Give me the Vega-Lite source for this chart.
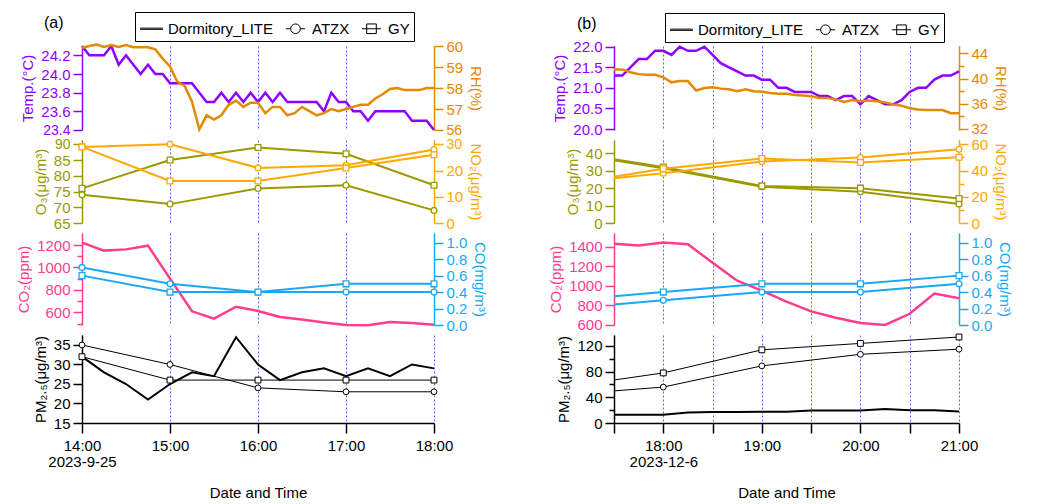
{
"$schema": "https://vega.github.io/schema/vega-lite/v6.json",
"background": "white",
"padding": {"left": 16, "top": 11, "right": 5, "bottom": 3},
"datasets": {
"a_env": [
{"t":"2023-09-25T14:00","temp":24.3,"rh":59.92},{"t":"2023-09-25T14:05","temp":24.2,"rh":60.0},{"t":"2023-09-25T14:10","temp":24.2,"rh":60.07},{"t":"2023-09-25T14:15","temp":24.2,"rh":59.95},{"t":"2023-09-25T14:20","temp":24.3,"rh":60.05},{"t":"2023-09-25T14:25","temp":24.1,"rh":59.95},{"t":"2023-09-25T14:30","temp":24.2,"rh":60.05},{"t":"2023-09-25T14:35","temp":24.1,"rh":59.94},{"t":"2023-09-25T14:40","temp":24.0,"rh":59.94},{"t":"2023-09-25T14:45","temp":24.1,"rh":59.94},{"t":"2023-09-25T14:50","temp":24.0,"rh":59.84},{"t":"2023-09-25T14:55","temp":24.0,"rh":59.4},
{"t":"2023-09-25T15:00","temp":23.9,"rh":59.03},{"t":"2023-09-25T15:05","temp":23.9,"rh":58.3},{"t":"2023-09-25T15:10","temp":23.9,"rh":58.1},{"t":"2023-09-25T15:15","temp":23.9,"rh":57.35},{"t":"2023-09-25T15:20","temp":23.8,"rh":56.03},{"t":"2023-09-25T15:25","temp":23.7,"rh":56.7},{"t":"2023-09-25T15:30","temp":23.7,"rh":56.5},{"t":"2023-09-25T15:35","temp":23.8,"rh":56.7},{"t":"2023-09-25T15:40","temp":23.7,"rh":57.2},{"t":"2023-09-25T15:45","temp":23.8,"rh":57.4},{"t":"2023-09-25T15:50","temp":23.7,"rh":57.1},{"t":"2023-09-25T15:55","temp":23.8,"rh":57.3},
{"t":"2023-09-25T16:00","temp":23.7,"rh":57.3},{"t":"2023-09-25T16:05","temp":23.8,"rh":56.8},{"t":"2023-09-25T16:10","temp":23.7,"rh":57.1},{"t":"2023-09-25T16:15","temp":23.8,"rh":57.1},{"t":"2023-09-25T16:20","temp":23.7,"rh":56.7},{"t":"2023-09-25T16:25","temp":23.7,"rh":56.8},{"t":"2023-09-25T16:30","temp":23.7,"rh":57.1},{"t":"2023-09-25T16:35","temp":23.7,"rh":56.9},{"t":"2023-09-25T16:40","temp":23.7,"rh":56.7},{"t":"2023-09-25T16:45","temp":23.6,"rh":56.8},{"t":"2023-09-25T16:50","temp":23.8,"rh":57.0},{"t":"2023-09-25T16:55","temp":23.7,"rh":56.9},
{"t":"2023-09-25T17:00","temp":23.7,"rh":57.0},{"t":"2023-09-25T17:05","temp":23.6,"rh":57.1},{"t":"2023-09-25T17:10","temp":23.6,"rh":57.2},{"t":"2023-09-25T17:15","temp":23.5,"rh":57.2},{"t":"2023-09-25T17:20","temp":23.6,"rh":57.5},{"t":"2023-09-25T17:25","temp":23.6,"rh":57.7},{"t":"2023-09-25T17:30","temp":23.6,"rh":57.95},{"t":"2023-09-25T17:35","temp":23.6,"rh":58.0},{"t":"2023-09-25T17:40","temp":23.6,"rh":57.9},{"t":"2023-09-25T17:45","temp":23.5,"rh":57.9},{"t":"2023-09-25T17:50","temp":23.5,"rh":57.9},{"t":"2023-09-25T17:55","temp":23.5,"rh":58.0},
{"t":"2023-09-25T18:00","temp":23.4,"rh":58.0}
],
"a_15": [
{"t":"2023-09-25T14:00","co2":1221,"pm":32},{"t":"2023-09-25T14:15","co2":1150,"pm":28},{"t":"2023-09-25T14:30","co2":1161,"pm":25},{"t":"2023-09-25T14:45","co2":1194,"pm":21},
{"t":"2023-09-25T15:00","co2":900,"pm":25},{"t":"2023-09-25T15:15","co2":609,"pm":28},{"t":"2023-09-25T15:30","co2":543,"pm":27},{"t":"2023-09-25T15:45","co2":650,"pm":37},
{"t":"2023-09-25T16:00","co2":612,"pm":30},{"t":"2023-09-25T16:15","co2":558,"pm":26},{"t":"2023-09-25T16:30","co2":535,"pm":28},{"t":"2023-09-25T16:45","co2":510,"pm":29},
{"t":"2023-09-25T17:00","co2":487,"pm":27},{"t":"2023-09-25T17:15","co2":484,"pm":29},{"t":"2023-09-25T17:30","co2":514,"pm":27},{"t":"2023-09-25T17:45","co2":505,"pm":30},
{"t":"2023-09-25T18:00","co2":490,"pm":29}
],
"a_hr": [
{"station":"ATZX","t":"2023-09-25T14:00","o3":74,"no2":29,"co":0.7,"pm":35},
{"station":"ATZX","t":"2023-09-25T15:00","o3":71,"no2":30,"co":0.5,"pm":30},
{"station":"ATZX","t":"2023-09-25T16:00","o3":76,"no2":21,"co":0.4,"pm":24},
{"station":"ATZX","t":"2023-09-25T17:00","o3":77,"no2":22,"co":0.4,"pm":23},
{"station":"ATZX","t":"2023-09-25T18:00","o3":69,"no2":28,"co":0.4,"pm":23},
{"station":"GY","t":"2023-09-25T14:00","o3":76,"no2":29,"co":0.6,"pm":32},
{"station":"GY","t":"2023-09-25T15:00","o3":85,"no2":16,"co":0.4,"pm":26},
{"station":"GY","t":"2023-09-25T16:00","o3":89,"no2":16,"co":0.4,"pm":26},
{"station":"GY","t":"2023-09-25T17:00","o3":87,"no2":21,"co":0.5,"pm":26},
{"station":"GY","t":"2023-09-25T18:00","o3":77,"no2":26,"co":0.5,"pm":26}
],
"b_env": [
{"t":"2023-12-06T17:30","temp":21.3,"rh":41.45},{"t":"2023-12-06T17:35","temp":21.3,"rh":41.45},{"t":"2023-12-06T17:40","temp":21.5,"rh":41.0},{"t":"2023-12-06T17:45","temp":21.7,"rh":40.7},{"t":"2023-12-06T17:50","temp":21.7,"rh":40.6},{"t":"2023-12-06T17:55","temp":21.9,"rh":40.6},
{"t":"2023-12-06T18:00","temp":21.9,"rh":40.2},{"t":"2023-12-06T18:05","temp":21.8,"rh":39.4},{"t":"2023-12-06T18:10","temp":22.0,"rh":39.6},{"t":"2023-12-06T18:15","temp":21.9,"rh":39.6},{"t":"2023-12-06T18:20","temp":21.9,"rh":38.1},{"t":"2023-12-06T18:25","temp":22.0,"rh":38.5},{"t":"2023-12-06T18:30","temp":21.8,"rh":38.6},{"t":"2023-12-06T18:35","temp":21.6,"rh":38.4},{"t":"2023-12-06T18:40","temp":21.5,"rh":38.3},{"t":"2023-12-06T18:45","temp":21.4,"rh":38.0},{"t":"2023-12-06T18:50","temp":21.3,"rh":38.3},{"t":"2023-12-06T18:55","temp":21.3,"rh":38.0},
{"t":"2023-12-06T19:00","temp":21.2,"rh":37.9},{"t":"2023-12-06T19:05","temp":21.2,"rh":37.7},{"t":"2023-12-06T19:10","temp":21.0,"rh":37.6},{"t":"2023-12-06T19:15","temp":21.0,"rh":37.6},{"t":"2023-12-06T19:20","temp":20.9,"rh":37.4},{"t":"2023-12-06T19:25","temp":20.9,"rh":37.3},{"t":"2023-12-06T19:30","temp":20.9,"rh":37.2},{"t":"2023-12-06T19:35","temp":20.8,"rh":36.9},{"t":"2023-12-06T19:40","temp":20.8,"rh":36.9},{"t":"2023-12-06T19:45","temp":20.7,"rh":36.7},{"t":"2023-12-06T19:50","temp":20.8,"rh":36.3},{"t":"2023-12-06T19:55","temp":20.8,"rh":36.6},
{"t":"2023-12-06T20:00","temp":20.6,"rh":36.4},{"t":"2023-12-06T20:05","temp":20.8,"rh":36.5},{"t":"2023-12-06T20:10","temp":20.7,"rh":36.4},{"t":"2023-12-06T20:15","temp":20.6,"rh":36.2},{"t":"2023-12-06T20:20","temp":20.6,"rh":35.9},{"t":"2023-12-06T20:25","temp":20.7,"rh":35.7},{"t":"2023-12-06T20:30","temp":20.9,"rh":35.3},{"t":"2023-12-06T20:35","temp":21.0,"rh":35.1},{"t":"2023-12-06T20:40","temp":21.0,"rh":35.0},{"t":"2023-12-06T20:45","temp":21.2,"rh":35.0},{"t":"2023-12-06T20:50","temp":21.3,"rh":35.0},{"t":"2023-12-06T20:55","temp":21.3,"rh":34.5},
{"t":"2023-12-06T21:00","temp":21.4,"rh":34.5}
],
"b_15": [
{"t":"2023-12-06T17:30","co2":1430,"pm":13},{"t":"2023-12-06T17:45","co2":1410,"pm":13},{"t":"2023-12-06T18:00","co2":1441,"pm":13},{"t":"2023-12-06T18:15","co2":1424,"pm":16.5},
{"t":"2023-12-06T18:30","co2":1234,"pm":17},{"t":"2023-12-06T18:45","co2":1051,"pm":17.3},{"t":"2023-12-06T19:00","co2":949,"pm":17.5},{"t":"2023-12-06T19:15","co2":837,"pm":17.5},
{"t":"2023-12-06T19:30","co2":736,"pm":19.5},{"t":"2023-12-06T19:45","co2":671,"pm":19.6},{"t":"2023-12-06T20:00","co2":617,"pm":19.6},{"t":"2023-12-06T20:15","co2":597,"pm":22},
{"t":"2023-12-06T20:30","co2":712,"pm":20},{"t":"2023-12-06T20:45","co2":919,"pm":20},{"t":"2023-12-06T21:00","co2":871,"pm":18}
],
"b_hr": [
{"station":"ATZX","t":"2023-12-06T17:30","o3":35.8,"no2":34.2,"co":0.25,"pm":50},
{"station":"ATZX","t":"2023-12-06T18:00","o3":31.3,"no2":38,"co":0.3,"pm":56},
{"station":"ATZX","t":"2023-12-06T19:00","o3":20.7,"no2":46.8,"co":0.4,"pm":89},
{"station":"ATZX","t":"2023-12-06T20:00","o3":17.8,"no2":49.9,"co":0.4,"pm":107},
{"station":"ATZX","t":"2023-12-06T21:00","o3":10.8,"no2":56.2,"co":0.5,"pm":115},
{"station":"GY","t":"2023-12-06T17:30","o3":36.4,"no2":35.2,"co":0.35,"pm":67},
{"station":"GY","t":"2023-12-06T18:00","o3":32.0,"no2":41.3,"co":0.4,"pm":78},
{"station":"GY","t":"2023-12-06T19:00","o3":21.2,"no2":49.1,"co":0.5,"pm":114},
{"station":"GY","t":"2023-12-06T20:00","o3":19.9,"no2":46.1,"co":0.5,"pm":124},
{"station":"GY","t":"2023-12-06T21:00","o3":14.0,"no2":50.1,"co":0.6,"pm":134}
],
"legend": [{"station":"Dormitory_LITE"},{"station":"ATZX"},{"station":"GY"}]
},
"hconcat": [
{
"spacing": 10,
"bounds": "flush",
"resolve": {"scale": {"shape": "independent"}, "legend": {"shape": "independent"}},
"vconcat": [
{
"width": 352, "height": 84,
"title": {"text": "(a)", "anchor": "start", "frame": "group", "dx": -38, "offset": -19, "fontSize": 16, "fontWeight": "normal", "color": "black"},
"layer": [
{"data": {"name": "a_env"}, "mark": {"type": "line", "color": "#8F00FF", "strokeWidth": 2.5},
 "encoding": {
  "x": {"field": "t", "type": "temporal", "scale": {"domain": [{"year":2023,"month":9,"date":25,"hours":14},{"year":2023,"month":9,"date":25,"hours":18}]}, "axis": {"values": [{"year":2023,"month":9,"date":25,"hours":14},{"year":2023,"month":9,"date":25,"hours":15},{"year":2023,"month":9,"date":25,"hours":16},{"year":2023,"month":9,"date":25,"hours":17},{"year":2023,"month":9,"date":25,"hours":18}], "labels": false, "ticks": false, "domain": false, "title": null}},
  "y": {"field": "temp", "type": "quantitative", "scale": {"domain": [23.4, 24.3], "nice": false, "zero": false}, "axis": {"orient": "left", "values": [23.4, 23.6, 23.8, 24.0, 24.2], "format": ".1f", "labelFontSize": {"condition": {"test": "datum.value < 23.5", "value": 14}, "value": 15}, "title": "Temp.(°C)", "domainColor": "#8F00FF", "tickColor": "#8F00FF", "labelColor": "#8F00FF", "titleColor": "#8F00FF"}}
 }},
{"data": {"name": "a_env"}, "mark": {"type": "line", "color": "#E38A00", "strokeWidth": 2.5},
 "encoding": {
  "x": {"field": "t", "type": "temporal", "scale": {"domain": [{"year":2023,"month":9,"date":25,"hours":14},{"year":2023,"month":9,"date":25,"hours":18}]}},
  "y": {"field": "rh", "type": "quantitative", "scale": {"domain": [56, 60], "nice": false, "zero": false}, "axis": {"orient": "right", "values": [56, 57, 58, 59, 60], "labelFontSize": {"condition": {"test": "datum.value < 56.5", "value": 14}, "value": 15}, "title": "RH(%)", "domainColor": "#E38A00", "tickColor": "#E38A00", "labelColor": "#E38A00", "titleColor": "#E38A00"}}
 }},
{"data": {"name": "legend"}, "mark": {"type": "point", "opacity": 0, "color": "black", "filled": false},
 "encoding": {
  "shape": {"field": "station", "type": "nominal",
   "scale": {"domain": ["Dormitory_LITE", "ATZX", "GY"], "range": ["M-0.95,-0.05L0.95,-0.05M-0.95,0.05L0.95,0.05", "M-0.8,0L-0.4,0M0.4,0L0.8,0M-0.4,0A0.4,0.4,0,1,1,0.4,0A0.4,0.4,0,1,1,-0.4,0Z", "M-0.8,0L0.8,0M-0.4,-0.4L0.4,-0.4L0.4,0.4L-0.4,0.4Z"]},
   "legend": {"orient": "none", "legendX": 53, "legendY": -34, "direction": "horizontal", "title": null, "strokeColor": "black", "fillColor": "white", "padding": 4, "labelFontSize": 15, "labelColor": "black", "symbolSize": 576, "symbolStrokeWidth": 1, "symbolStrokeColor": "black", "symbolFillColor": "transparent", "symbolOpacity": 1, "columnPadding": 9, "labelOffset": 4}}
 }}
],
"resolve": {"scale": {"y": "independent"}}
},
{
"width": 352, "height": 83,
"layer": [
{"data": {"name": "a_hr"},
 "encoding": {
  "x": {"field": "t", "type": "temporal", "scale": {"domain": [{"year":2023,"month":9,"date":25,"hours":14},{"year":2023,"month":9,"date":25,"hours":18}]}, "axis": {"values": [{"year":2023,"month":9,"date":25,"hours":14},{"year":2023,"month":9,"date":25,"hours":15},{"year":2023,"month":9,"date":25,"hours":16},{"year":2023,"month":9,"date":25,"hours":17},{"year":2023,"month":9,"date":25,"hours":18}], "labels": false, "ticks": false, "domain": false, "title": null}},
  "y": {"field": "o3", "type": "quantitative", "scale": {"domain": [65, 91.37], "nice": false, "zero": false}, "axis": {"orient": "left", "values": [65, 70, 75, 80, 85, 90], "labelFontSize": {"condition": {"test": "datum.value > 89", "value": 14}, "value": 15}, "title": "O₃(μg/m³)", "domainColor": "#9A9A00", "tickColor": "#9A9A00", "labelColor": "#9A9A00", "titleColor": "#9A9A00"}}
 },
 "layer": [
  {"mark": {"type": "line", "color": "#9A9A00", "strokeWidth": 2}, "encoding": {"detail": {"field": "station"}}},
  {"mark": {"type": "point", "filled": true, "fill": "white", "stroke": "#9A9A00", "strokeWidth": 1.3, "size": 34, "opacity": 1}, "encoding": {"shape": {"field": "station", "type": "nominal", "scale": {"domain": ["ATZX", "GY"], "range": ["circle", "square"]}, "legend": null}}}
 ]},
{"data": {"name": "a_hr"},
 "encoding": {
  "x": {"field": "t", "type": "temporal", "scale": {"domain": [{"year":2023,"month":9,"date":25,"hours":14},{"year":2023,"month":9,"date":25,"hours":18}]}},
  "y": {"field": "no2", "type": "quantitative", "scale": {"domain": [0, 31.64], "nice": false, "zero": false}, "axis": {"orient": "right", "values": [0, 10, 20, 30], "labelFontSize": {"condition": {"test": "datum.value > 29", "value": 14}, "value": 15}, "title": "NO₂(μg/m³)", "domainColor": "#FFA800", "tickColor": "#FFA800", "labelColor": "#FFA800", "titleColor": "#FFA800"}}
 },
 "layer": [
  {"mark": {"type": "line", "color": "#FFA800", "strokeWidth": 2}, "encoding": {"detail": {"field": "station"}}},
  {"mark": {"type": "point", "filled": true, "fill": "white", "stroke": "#FFA800", "strokeWidth": 1.3, "size": 34, "opacity": 1}, "encoding": {"shape": {"field": "station", "type": "nominal", "scale": {"domain": ["ATZX", "GY"], "range": ["circle", "square"]}, "legend": null}}}
 ]}
],
"resolve": {"scale": {"y": "independent"}}
},
{
"width": 352, "height": 92,
"layer": [
{"data": {"name": "a_15"}, "mark": {"type": "line", "color": "#FF3D8C", "strokeWidth": 2.5},
 "encoding": {
  "x": {"field": "t", "type": "temporal", "scale": {"domain": [{"year":2023,"month":9,"date":25,"hours":14},{"year":2023,"month":9,"date":25,"hours":18}]}, "axis": {"values": [{"year":2023,"month":9,"date":25,"hours":14},{"year":2023,"month":9,"date":25,"hours":15},{"year":2023,"month":9,"date":25,"hours":16},{"year":2023,"month":9,"date":25,"hours":17},{"year":2023,"month":9,"date":25,"hours":18}], "labels": false, "ticks": false, "domain": false, "title": null}},
  "y": {"field": "co2", "type": "quantitative", "scale": {"domain": [487, 1307], "nice": false, "zero": false}, "axis": {"orient": "left", "values": [500, 600, 700, 800, 900, 1000, 1100, 1200], "labelExpr": "datum.value % 200 == 0 ? datum.label : ''", "tickSize": {"condition": {"test": "datum.value % 200 != 0", "value": 5}, "value": 9}, "format": "d", "title": "CO₂(ppm)", "domainColor": "#FF3D8C", "tickColor": "#FF3D8C", "labelColor": "#FF3D8C", "titleColor": "#FF3D8C"}}
 }},
{"data": {"name": "a_hr"},
 "encoding": {
  "x": {"field": "t", "type": "temporal", "scale": {"domain": [{"year":2023,"month":9,"date":25,"hours":14},{"year":2023,"month":9,"date":25,"hours":18}]}},
  "y": {"field": "co", "type": "quantitative", "scale": {"domain": [0, 1.118], "nice": false, "zero": false}, "axis": {"orient": "right", "values": [0, 0.2, 0.4, 0.6, 0.8, 1.0], "format": ".1f", "title": "CO(mg/m³)", "domainColor": "#1AA8F5", "tickColor": "#1AA8F5", "labelColor": "#1AA8F5", "titleColor": "#1AA8F5"}}
 },
 "layer": [
  {"mark": {"type": "line", "color": "#1AA8F5", "strokeWidth": 2}, "encoding": {"detail": {"field": "station"}}},
  {"mark": {"type": "point", "filled": true, "fill": "white", "stroke": "#1AA8F5", "strokeWidth": 1.3, "size": 34, "opacity": 1}, "encoding": {"shape": {"field": "station", "type": "nominal", "scale": {"domain": ["ATZX", "GY"], "range": ["circle", "square"]}, "legend": null}}}
 ]}
],
"resolve": {"scale": {"y": "independent"}}
},
{
"width": 352, "height": 88,
"layer": [
{"data": {"name": "a_15"}, "mark": {"type": "line", "color": "black", "strokeWidth": 2},
 "encoding": {
  "x": {"field": "t", "type": "temporal", "scale": {"domain": [{"year":2023,"month":9,"date":25,"hours":14},{"year":2023,"month":9,"date":25,"hours":18}]}, "axis": {"values": [{"year":2023,"month":9,"date":25,"hours":14},{"year":2023,"month":9,"date":25,"hours":15},{"year":2023,"month":9,"date":25,"hours":16},{"year":2023,"month":9,"date":25,"hours":17},{"year":2023,"month":9,"date":25,"hours":18}], "labelExpr": "hours(datum.value) == 14 ? ['14:00', '2023-9-25'] : timeFormat(datum.value, '%H:%M')", "tickSize": 10, "labelPadding": 5, "labelLineHeight": 16, "domainColor": "black", "tickColor": "black", "labelColor": "black", "title": "Date and Time", "titlePadding": 16}},
  "y": {"field": "pm", "type": "quantitative", "scale": {"domain": [15, 37.56], "nice": false, "zero": false}, "axis": {"orient": "left", "values": [15, 20, 25, 30, 35], "labelOverlap": false, "title": "PM₂.₅(μg/m³)", "domainColor": "black", "tickColor": "black", "labelColor": "black", "titleColor": "black"}}
 }},
{"data": {"name": "a_hr"},
 "encoding": {
  "x": {"field": "t", "type": "temporal", "scale": {"domain": [{"year":2023,"month":9,"date":25,"hours":14},{"year":2023,"month":9,"date":25,"hours":18}]}},
  "y": {"field": "pm", "type": "quantitative", "scale": {"domain": [15, 37.56], "nice": false, "zero": false}, "axis": {"orient": "left", "values": [15, 20, 25, 30, 35], "labelOverlap": false, "title": "PM₂.₅(μg/m³)", "domainColor": "black", "tickColor": "black", "labelColor": "black", "titleColor": "black"}}
 },
 "layer": [
  {"mark": {"type": "line", "color": "black", "strokeWidth": 1}, "encoding": {"detail": {"field": "station"}}},
  {"mark": {"type": "point", "filled": true, "fill": "white", "stroke": "black", "strokeWidth": 1, "size": 34, "opacity": 1}, "encoding": {"shape": {"field": "station", "type": "nominal", "scale": {"domain": ["ATZX", "GY"], "range": ["circle", "square"]}, "legend": null}}}
 ]}
]
}
]
},
{
"spacing": 10,
"bounds": "flush",
"resolve": {"scale": {"shape": "independent"}, "legend": {"shape": "independent"}},
"vconcat": [
{
"width": 345, "height": 84,
"title": {"text": "(b)", "anchor": "start", "frame": "group", "dx": -37, "offset": -19, "fontSize": 16, "fontWeight": "normal", "color": "black"},
"layer": [
{"data": {"name": "b_env"}, "mark": {"type": "line", "color": "#8F00FF", "strokeWidth": 2.5},
 "encoding": {
  "x": {"field": "t", "type": "temporal", "scale": {"domain": [{"year":2023,"month":12,"date":6,"hours":17,"minutes":30},{"year":2023,"month":12,"date":6,"hours":21}]}, "axis": {"values": [{"year":2023,"month":12,"date":6,"hours":17,"minutes":30},{"year":2023,"month":12,"date":6,"hours":18},{"year":2023,"month":12,"date":6,"hours":18,"minutes":30},{"year":2023,"month":12,"date":6,"hours":19},{"year":2023,"month":12,"date":6,"hours":19,"minutes":30},{"year":2023,"month":12,"date":6,"hours":20},{"year":2023,"month":12,"date":6,"hours":20,"minutes":30},{"year":2023,"month":12,"date":6,"hours":21}], "labels": false, "ticks": false, "domain": false, "title": null}},
  "y": {"field": "temp", "type": "quantitative", "scale": {"domain": [19.976, 22.017], "nice": false, "zero": false}, "axis": {"orient": "left", "values": [20.0, 20.5, 21.0, 21.5, 22.0], "format": ".1f", "title": "Temp.(°C)", "domainColor": "#8F00FF", "tickColor": "#8F00FF", "labelColor": "#8F00FF", "titleColor": "#8F00FF"}}
 }},
{"data": {"name": "b_env"}, "mark": {"type": "line", "color": "#E38A00", "strokeWidth": 2.5},
 "encoding": {
  "x": {"field": "t", "type": "temporal", "scale": {"domain": [{"year":2023,"month":12,"date":6,"hours":17,"minutes":30},{"year":2023,"month":12,"date":6,"hours":21}]}},
  "y": {"field": "rh", "type": "quantitative", "scale": {"domain": [31.84, 45.16], "nice": false, "zero": false}, "axis": {"orient": "right", "values": [32, 34, 36, 38, 40, 42, 44], "labelExpr": "datum.value % 4 == 0 ? datum.label : ''", "tickSize": {"condition": {"test": "datum.value % 4 != 0", "value": 5}, "value": 9}, "title": "RH(%)", "domainColor": "#E38A00", "tickColor": "#E38A00", "labelColor": "#E38A00", "titleColor": "#E38A00"}}
 }},
{"data": {"name": "legend"}, "mark": {"type": "point", "opacity": 0, "color": "black", "filled": false},
 "encoding": {
  "shape": {"field": "station", "type": "nominal",
   "scale": {"domain": ["Dormitory_LITE", "ATZX", "GY"], "range": ["M-0.95,-0.05L0.95,-0.05M-0.95,0.05L0.95,0.05", "M-0.8,0L-0.4,0M0.4,0L0.8,0M-0.4,0A0.4,0.4,0,1,1,0.4,0A0.4,0.4,0,1,1,-0.4,0Z", "M-0.8,0L0.8,0M-0.4,-0.4L0.4,-0.4L0.4,0.4L-0.4,0.4Z"]},
   "legend": {"orient": "none", "legendX": 51, "legendY": -33, "direction": "horizontal", "title": null, "strokeColor": "black", "fillColor": "white", "padding": 4, "labelFontSize": 15, "labelColor": "black", "symbolSize": 576, "symbolStrokeWidth": 1, "symbolStrokeColor": "black", "symbolFillColor": "transparent", "symbolOpacity": 1, "columnPadding": 9, "labelOffset": 4}}
 }}
],
"resolve": {"scale": {"y": "independent"}}
},
{
"width": 345, "height": 83,
"layer": [
{"data": {"name": "b_hr"},
 "encoding": {
  "x": {"field": "t", "type": "temporal", "scale": {"domain": [{"year":2023,"month":12,"date":6,"hours":17,"minutes":30},{"year":2023,"month":12,"date":6,"hours":21}]}, "axis": {"values": [{"year":2023,"month":12,"date":6,"hours":17,"minutes":30},{"year":2023,"month":12,"date":6,"hours":18},{"year":2023,"month":12,"date":6,"hours":18,"minutes":30},{"year":2023,"month":12,"date":6,"hours":19},{"year":2023,"month":12,"date":6,"hours":19,"minutes":30},{"year":2023,"month":12,"date":6,"hours":20},{"year":2023,"month":12,"date":6,"hours":20,"minutes":30},{"year":2023,"month":12,"date":6,"hours":21}], "labels": false, "ticks": false, "domain": false, "title": null}},
  "y": {"field": "o3", "type": "quantitative", "scale": {"domain": [0, 47.43], "nice": false, "zero": false}, "axis": {"orient": "left", "values": [0, 10, 20, 30, 40], "title": "O₃(μg/m³)", "domainColor": "#9A9A00", "tickColor": "#9A9A00", "labelColor": "#9A9A00", "titleColor": "#9A9A00"}}
 },
 "layer": [
  {"mark": {"type": "line", "color": "#9A9A00", "strokeWidth": 2}, "encoding": {"detail": {"field": "station"}}},
  {"transform": [{"filter": {"timeUnit": "minutes", "field": "t", "equal": 0}}], "mark": {"type": "point", "filled": true, "fill": "white", "stroke": "#9A9A00", "strokeWidth": 1.3, "size": 34, "opacity": 1}, "encoding": {"shape": {"field": "station", "type": "nominal", "scale": {"domain": ["ATZX", "GY"], "range": ["circle", "square"]}, "legend": null}}}
 ]},
{"data": {"name": "b_hr"},
 "encoding": {
  "x": {"field": "t", "type": "temporal", "scale": {"domain": [{"year":2023,"month":12,"date":6,"hours":17,"minutes":30},{"year":2023,"month":12,"date":6,"hours":21}]}},
  "y": {"field": "no2", "type": "quantitative", "scale": {"domain": [0, 63.28], "nice": false, "zero": false}, "axis": {"orient": "right", "values": [0, 10, 20, 30, 40, 50, 60], "labelExpr": "datum.value % 20 == 0 ? datum.label : ''", "tickSize": {"condition": {"test": "datum.value % 20 != 0", "value": 5}, "value": 9}, "title": "NO₂(μg/m³)", "domainColor": "#FFA800", "tickColor": "#FFA800", "labelColor": "#FFA800", "titleColor": "#FFA800"}}
 },
 "layer": [
  {"mark": {"type": "line", "color": "#FFA800", "strokeWidth": 2}, "encoding": {"detail": {"field": "station"}}},
  {"transform": [{"filter": {"timeUnit": "minutes", "field": "t", "equal": 0}}], "mark": {"type": "point", "filled": true, "fill": "white", "stroke": "#FFA800", "strokeWidth": 1.3, "size": 34, "opacity": 1}, "encoding": {"shape": {"field": "station", "type": "nominal", "scale": {"domain": ["ATZX", "GY"], "range": ["circle", "square"]}, "legend": null}}}
 ]}
],
"resolve": {"scale": {"y": "independent"}}
},
{
"width": 345, "height": 92,
"layer": [
{"data": {"name": "b_15"}, "mark": {"type": "line", "color": "#FF3D8C", "strokeWidth": 2.5},
 "encoding": {
  "x": {"field": "t", "type": "temporal", "scale": {"domain": [{"year":2023,"month":12,"date":6,"hours":17,"minutes":30},{"year":2023,"month":12,"date":6,"hours":21}]}, "axis": {"values": [{"year":2023,"month":12,"date":6,"hours":17,"minutes":30},{"year":2023,"month":12,"date":6,"hours":18},{"year":2023,"month":12,"date":6,"hours":18,"minutes":30},{"year":2023,"month":12,"date":6,"hours":19},{"year":2023,"month":12,"date":6,"hours":19,"minutes":30},{"year":2023,"month":12,"date":6,"hours":20},{"year":2023,"month":12,"date":6,"hours":20,"minutes":30},{"year":2023,"month":12,"date":6,"hours":21}], "labels": false, "ticks": false, "domain": false, "title": null}},
  "y": {"field": "co2", "type": "quantitative", "scale": {"domain": [597, 1539], "nice": false, "zero": false}, "axis": {"orient": "left", "values": [600, 800, 1000, 1200, 1400], "format": "d", "title": "CO₂(ppm)", "domainColor": "#FF3D8C", "tickColor": "#FF3D8C", "labelColor": "#FF3D8C", "titleColor": "#FF3D8C"}}
 }},
{"data": {"name": "b_hr"},
 "encoding": {
  "x": {"field": "t", "type": "temporal", "scale": {"domain": [{"year":2023,"month":12,"date":6,"hours":17,"minutes":30},{"year":2023,"month":12,"date":6,"hours":21}]}},
  "y": {"field": "co", "type": "quantitative", "scale": {"domain": [0, 1.118], "nice": false, "zero": false}, "axis": {"orient": "right", "values": [0, 0.2, 0.4, 0.6, 0.8, 1.0], "format": ".1f", "title": "CO(mg/m³)", "domainColor": "#1AA8F5", "tickColor": "#1AA8F5", "labelColor": "#1AA8F5", "titleColor": "#1AA8F5"}}
 },
 "layer": [
  {"mark": {"type": "line", "color": "#1AA8F5", "strokeWidth": 2}, "encoding": {"detail": {"field": "station"}}},
  {"transform": [{"filter": {"timeUnit": "minutes", "field": "t", "equal": 0}}], "mark": {"type": "point", "filled": true, "fill": "white", "stroke": "#1AA8F5", "strokeWidth": 1.3, "size": 34, "opacity": 1}, "encoding": {"shape": {"field": "station", "type": "nominal", "scale": {"domain": ["ATZX", "GY"], "range": ["circle", "square"]}, "legend": null}}}
 ]}
],
"resolve": {"scale": {"y": "independent"}}
},
{
"width": 345, "height": 88,
"layer": [
{"data": {"name": "b_15"}, "mark": {"type": "line", "color": "black", "strokeWidth": 2},
 "encoding": {
  "x": {"field": "t", "type": "temporal", "scale": {"domain": [{"year":2023,"month":12,"date":6,"hours":17,"minutes":30},{"year":2023,"month":12,"date":6,"hours":21}]}, "axis": {"values": [{"year":2023,"month":12,"date":6,"hours":17,"minutes":30},{"year":2023,"month":12,"date":6,"hours":18},{"year":2023,"month":12,"date":6,"hours":18,"minutes":30},{"year":2023,"month":12,"date":6,"hours":19},{"year":2023,"month":12,"date":6,"hours":19,"minutes":30},{"year":2023,"month":12,"date":6,"hours":20},{"year":2023,"month":12,"date":6,"hours":20,"minutes":30},{"year":2023,"month":12,"date":6,"hours":21}], "labelExpr": "minutes(datum.value) != 0 ? '' : (hours(datum.value) == 18 ? ['18:00', '2023-12-6'] : timeFormat(datum.value, '%H:%M'))", "tickSize": 10, "labelPadding": 5, "labelLineHeight": 16, "domainColor": "black", "tickColor": "black", "labelColor": "black", "title": "Date and Time", "titlePadding": 16}},
  "y": {"field": "pm", "type": "quantitative", "scale": {"domain": [0, 137.1], "nice": false, "zero": false}, "axis": {"orient": "left", "values": [0, 20, 40, 60, 80, 100, 120], "labelOverlap": false, "labelExpr": "datum.value % 40 == 0 ? datum.label : ''", "tickSize": {"condition": {"test": "datum.value % 40 != 0", "value": 5}, "value": 9}, "title": "PM₂.₅(μg/m³)", "domainColor": "black", "tickColor": "black", "labelColor": "black", "titleColor": "black"}}
 }},
{"data": {"name": "b_hr"},
 "encoding": {
  "x": {"field": "t", "type": "temporal", "scale": {"domain": [{"year":2023,"month":12,"date":6,"hours":17,"minutes":30},{"year":2023,"month":12,"date":6,"hours":21}]}},
  "y": {"field": "pm", "type": "quantitative", "scale": {"domain": [0, 137.1], "nice": false, "zero": false}, "axis": {"orient": "left", "values": [0, 20, 40, 60, 80, 100, 120], "labelOverlap": false, "labelExpr": "datum.value % 40 == 0 ? datum.label : ''", "tickSize": {"condition": {"test": "datum.value % 40 != 0", "value": 5}, "value": 9}, "title": "PM₂.₅(μg/m³)", "domainColor": "black", "tickColor": "black", "labelColor": "black", "titleColor": "black"}}
 },
 "layer": [
  {"mark": {"type": "line", "color": "black", "strokeWidth": 1}, "encoding": {"detail": {"field": "station"}}},
  {"transform": [{"filter": {"timeUnit": "minutes", "field": "t", "equal": 0}}], "mark": {"type": "point", "filled": true, "fill": "white", "stroke": "black", "strokeWidth": 1, "size": 34, "opacity": 1}, "encoding": {"shape": {"field": "station", "type": "nominal", "scale": {"domain": ["ATZX", "GY"], "range": ["circle", "square"]}, "legend": null}}}
 ]}
]
}
]
}
],
"spacing": 61,
"resolve": {"scale": {"shape": "independent"}, "legend": {"shape": "independent"}},
"config": {
 "font": "Liberation Sans",
 "view": {"stroke": null},
 "axis": {"labelFontSize": 15, "titleFontSize": 15, "titleFontWeight": "normal", "tickSize": 9, "labelPadding": 3, "titlePadding": 5, "domainWidth": 1.5, "tickWidth": 1.5, "grid": false, "labelFlush": false, "labelOverlap": false},
 "axisX": {"grid": true, "gridColor": "#3a3aff", "gridDash": [2, 2], "gridWidth": 0.8, "gridOpacity": 1},
 "axisY": {"labelOverlap": false},
 "legend": {"labelFont": "Liberation Sans"}
}
}
